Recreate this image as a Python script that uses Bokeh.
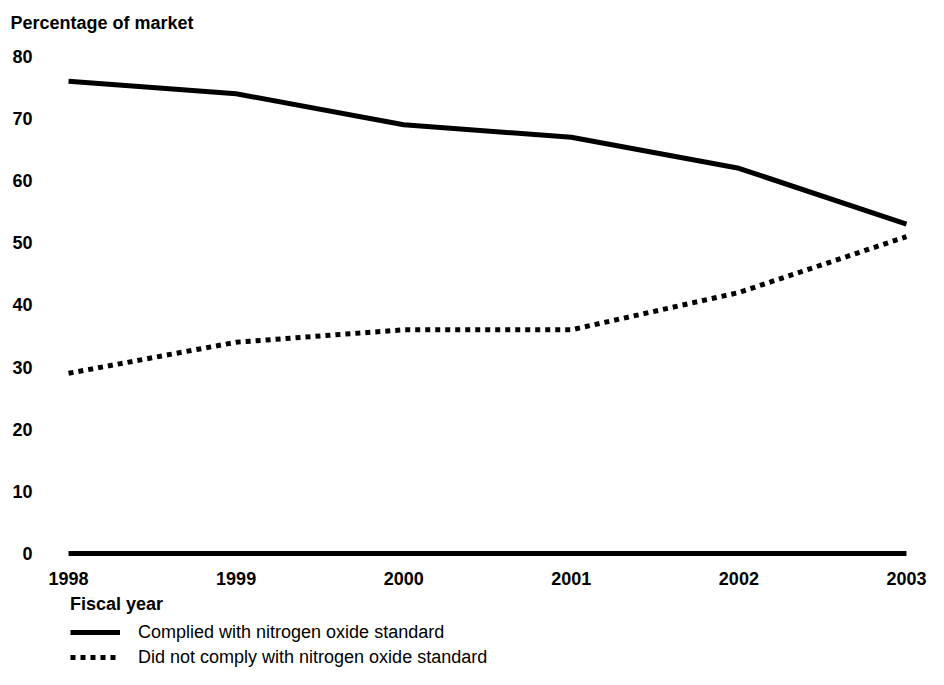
from bokeh.plotting import figure
from bokeh.models import Range1d, FixedTicker, Legend, LegendItem
from bokeh.layouts import column
from bokeh.embed import file_html
from bokeh.resources import INLINE

years = [1998, 1999, 2000, 2001, 2002, 2003]
complied = [76, 74, 69, 67, 62, 53]
not_complied = [29, 34, 36, 36, 42, 51]
baseline = [0, 0, 0, 0, 0, 0]
y_ticks = [0, 10, 20, 30, 40, 50, 60, 70, 80]
legend_title = "Fiscal year"
series_labels = ["Complied with nitrogen oxide standard",
                 "Did not comply with nitrogen oxide standard"]

FONT = "Liberation Sans"
FS = "18px"

p = figure(width=928, height=592, output_backend="svg", toolbar_location=None,
           x_range=Range1d(1997.97, 2003.03), y_range=Range1d(-0.5, 82.5755),
           frame_width=848, frame_height=516,
           min_border_left=63, min_border_right=17, min_border_top=40, min_border_bottom=36)
p.outline_line_color = None
p.grid.visible = False
p.background_fill_color = "white"
p.border_fill_color = "white"

p.title.text = "Percentage of market"
p.title.align = "left"
p.title.offset = -53
p.title.text_font = FONT
p.title.text_font_size = FS
p.title.text_font_style = "bold"
p.title.text_color = "black"
p.title.standoff = 15

for ax in (p.xaxis[0], p.yaxis[0]):
    ax.axis_line_color = None
    ax.major_tick_line_color = None
    ax.minor_tick_line_color = None
    ax.major_tick_out = 0
    ax.major_tick_in = 0
    ax.major_label_text_font = FONT
    ax.major_label_text_font_size = FS
    ax.major_label_text_font_style = "bold"
    ax.major_label_text_color = "black"

p.xaxis.ticker = FixedTicker(ticks=years)
p.xaxis.major_label_standoff = 15
p.yaxis.ticker = FixedTicker(ticks=y_ticks)
p.yaxis.major_label_standoff = 31

p.line(years, baseline, line_color="black", line_width=5, line_cap="butt")
p.line(years, complied, line_color="black", line_width=5, line_join="round", line_cap="butt")
p.line(years, not_complied, line_color="black", line_width=5, line_dash="5 5",
       line_join="round", line_cap="butt")

# legend figure below the chart (its ranges keep these lines out of view; only the legend shows)
q = figure(width=928, height=77, output_backend="svg", toolbar_location=None,
           x_axis_location=None, y_axis_location=None,
           x_range=Range1d(0, 1), y_range=Range1d(0, 1),
           min_border_left=0, min_border_right=0, min_border_top=0, min_border_bottom=0)
q.outline_line_color = None
q.grid.visible = False
q.border_fill_color = "white"
q.background_fill_color = "white"
l1 = q.line(years, complied, line_color="black", line_width=5, line_cap="butt")
l2 = q.line(years, not_complied, line_color="black", line_width=5, line_dash="5 5", line_cap="butt")

legend = Legend(items=[LegendItem(label=series_labels[0], renderers=[l1]),
                       LegendItem(label=series_labels[1], renderers=[l2])],
                location=(7, 1), orientation="vertical")
legend.title = legend_title
legend.title_text_font = FONT
legend.title_text_font_size = FS
legend.title_text_font_style = "bold"
legend.title_text_color = "black"
legend.title_standoff = 6
legend.label_text_font = FONT
legend.label_text_font_size = FS
legend.label_text_color = "black"
legend.glyph_width = 50
legend.glyph_height = 22
legend.label_height = 22
legend.label_standoff = 18
legend.spacing = 3
legend.padding = 0
legend.margin = 0
legend.border_line_color = None
legend.background_fill_alpha = 0
legend.click_policy = "none"
q.add_layout(legend, "center")

layout = column(p, q, spacing=0)
open("out.html", "w").write(file_html(layout, INLINE))
